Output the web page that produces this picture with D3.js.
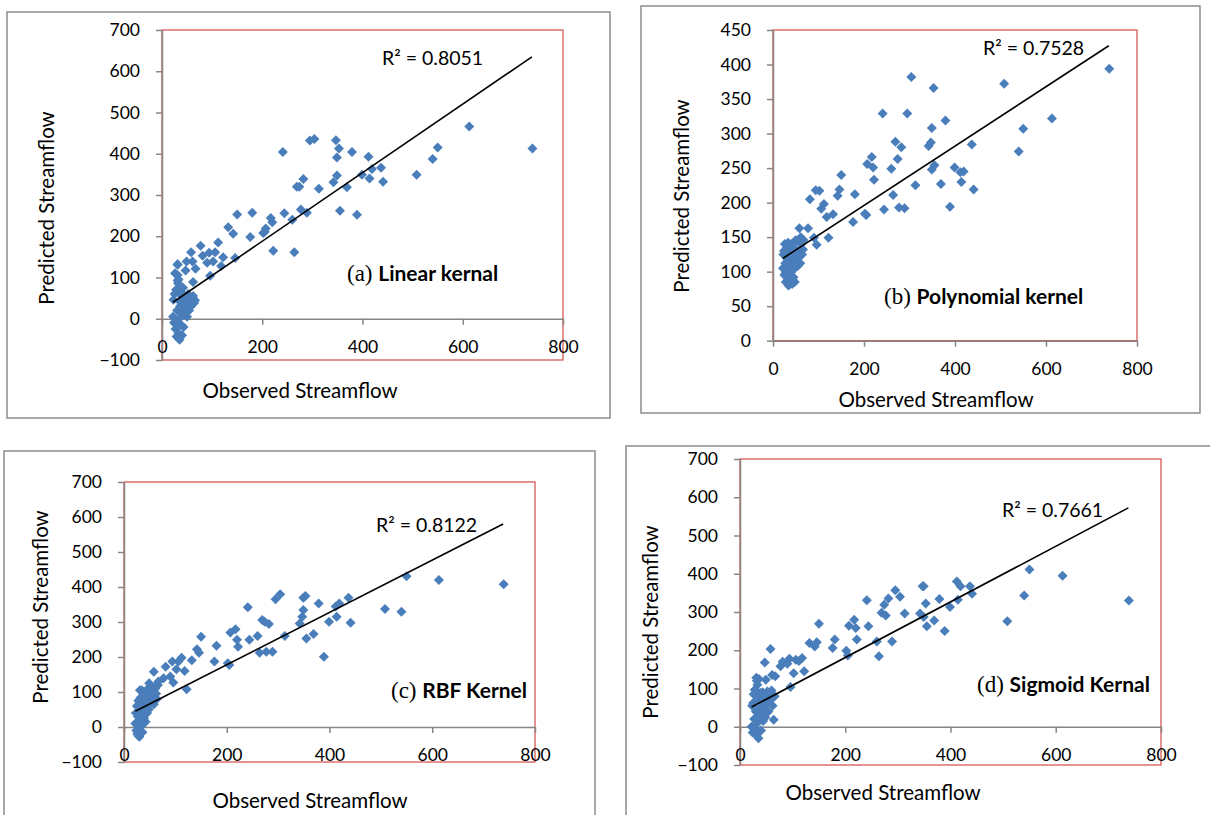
<!DOCTYPE html>
<html>
<head>
<meta charset="utf-8">
<script src="https://cdn.jsdelivr.net/npm/d3@7"></script>
<style>
body { margin: 0; background: #fff; }
svg { display: block; font-family: Lato, "Open Sans", sans-serif; }
</style>
</head>
<body>
<svg id="chart" width="1210" height="815"></svg>
<script>
// observed streamflow, shared by all four models
var observed = [739, 613, 550, 540, 508, 441, 437, 419, 414, 412, 399, 389, 379, 369, 355, 353, 349, 349, 347, 342,
    313, 304, 295, 289, 282, 277, 274, 269, 264, 260, 244, 241, 222, 220, 217, 207, 205, 202, 180, 176,
    150, 146, 142, 132, 122, 118, 112, 106, 102, 96, 94, 90, 81, 77, 67, 62, 61, 58, 49, 47, 31, 31, 31,
    22, 23, 24, 25, 26, 27, 28, 29, 30, 31, 32, 33, 34, 35, 36, 37, 38, 39, 40, 41,
    42, 43, 44, 45, 46, 47, 48, 50, 52, 54, 56, 58, 60, 62, 64, 66, 28, 33, 38, 43];

var predLinear = [413, 466, 415, 387, 349, 332, 366, 363, 340, 393, 349, 252, 404, 319, 262, 413, 391, 347, 433, 331,
    315, 436, 432, 257, 339, 265, 320, 320, 161, 240, 256, 404, 165, 234, 244, 219, 211, 208, 257, 198,
    253, 147, 206, 222, 149, 128, 185, 161, 139, 104, 160, 136, 153, 177, 121, 89, 139, 161, 139, 117, 131, 106, 93,
    5, 46, -10, 60, 110, -25, 70, -43, 20, 132, 86, -35, 0, -51, 30, 40, -15, 55, -40, 10,
    75, -20, 35, 15, 50, 25, 40, 5, 60, 20, 45, 30, 50, 55, 38, 45, -5, 95, 65, 25];

var predPoly = [394, 322, 307, 274, 372, 219, 284, 245, 230, 244, 251, 194, 319, 227, 254, 366, 308, 248, 287, 282,
    225, 382, 329, 192, 280, 193, 263, 288, 211, 249, 190, 329, 233, 251, 266, 256, 182, 184, 212, 172,
    240, 219, 210, 183, 149, 179, 198, 191, 217, 139, 218, 149, 205, 163, 146, 140, 150, 163, 145, 130, 135, 120, 112,
    105, 125, 130, 95, 140, 112, 85, 120, 100, 135, 90, 115, 80, 128, 105, 95, 118, 88, 140, 100,
    82, 110, 125, 92, 135, 105, 85, 115, 145, 108, 120, 130, 112, 140, 125, 132, 98, 142, 108, 88];

var predRbf = [408, 420, 431, 329, 337, 298, 369, 353, 315, 344, 301, 201, 353, 266, 253, 374, 369, 334, 315, 296,
    260, 379, 365, 215, 294, 215, 301, 306, 212, 260, 249, 342, 229, 249, 279, 270, 177, 182, 232, 187,
    258, 212, 222, 191, 108, 160, 198, 187, 165, 127, 187, 144, 172, 139, 130, 95, 110, 158, 125, 110, 105, 80, 75,
    10, 40, -10, 60, -20, 30, 75, 0, -28, 50, 20, 85, 5, 105, -15, 45, 65, 25, 35, 80,
    15, 55, 70, 40, 95, 60, 50, 85, 75, 100, 90, 65, 115, 95, 80, 120, -25, 30, 10, 100];

var predSigmoid = [330, 395, 411, 343, 276, 348, 367, 367, 332, 380, 313, 250, 334, 278, 263, 322, 367, 287, 367, 296,
    296, 340, 357, 223, 335, 291, 319, 298, 184, 223, 263, 331, 228, 258, 280, 264, 186, 199, 228, 206,
    269, 221, 210, 219, 145, 180, 172, 175, 140, 104, 178, 165, 170, 158, 132, 79, 135, 203, 123, 168, 128, 95, 90,
    0, 55, -15, 62, 85, 20, 97, -5, 40, -22, 120, 10, 75, -30, 125, 30, 50, 88, -10, 65,
    35, 90, 15, 70, 45, 80, 25, 60, 92, 40, 85, 70, 95, 55, 18, 80, 5, 110, 70, 30];

var letters = ["(a)", "(b)", "(c)", "(d)"];
var kernelNames = ["Linear kernal", "Polynomial kernel", "RBF Kernel", "Sigmoid Kernal"];
var r2Labels = ["R\u00b2 = 0.8051", "R\u00b2 = 0.7528", "R\u00b2 = 0.8122", "R\u00b2 = 0.7661"];

// linear trendlines
var trendSlope = [0.831, 0.430, 0.747, 0.727];
var trendIntercept = [21.7, 109.9, 28.6, 35.6];
var trendFrom = 22, trendTo = 738;

var xTicks = [0, 200, 400, 600, 800];
var yTicksWide = [-100, 0, 100, 200, 300, 400, 500, 600, 700];
var yTicksPoly = [0, 50, 100, 150, 200, 250, 300, 350, 400, 450];

var series = [predLinear, predPoly, predRbf, predSigmoid];
var yTickSets = [yTicksWide, yTicksPoly, yTicksWide, yTicksWide];

// page layout of each panel
var layouts = [
    { box: [7, 12, 610, 418], left: 162, right: 563, top: 30, bottom: 360,
      yt: [46, 208], xt: [300, 390], r2: [382, 65], lab: [347, 281] },
    { box: [641, 6, 1200, 413], left: 773, right: 1137, top: 30, bottom: 340.7,
      yt: [681, 196], xt: [936, 399], r2: [983, 55], lab: [884, 304] },
    { box: [4, 451, 595, 830], left: 124, right: 535, top: 482, bottom: 762,
      yt: [40, 607], xt: [310, 800], r2: [376, 532], lab: [391, 698] },
    { box: [626, 446, 1225, 830], left: 740, right: 1161, top: 459, bottom: 765,
      yt: [650, 622], xt: [883, 792], r2: [1002, 517], lab: [977, 692] }
];

var svg = d3.select("#chart");
var axisGray = "#868686";
var marker = d3.symbol(d3.symbolSquare, 50);

series.forEach(function(pred, i) {
    var L = layouts[i];
    var ticks = yTickSets[i];
    var g = svg.append("g");

    g.append("rect")
        .attr("x", L.box[0]).attr("y", L.box[1])
        .attr("width", L.box[2] - L.box[0]).attr("height", L.box[3] - L.box[1])
        .attr("fill", "none").attr("stroke", "#8c8c8c").attr("stroke-width", 1.5);

    var x = d3.scaleLinear().domain([0, 800]).range([L.left, L.right]);
    var y = d3.scaleLinear().domain([ticks[0], ticks[ticks.length - 1]]).range([L.bottom, L.top]);

    g.append("rect")
        .attr("x", L.left).attr("y", L.top)
        .attr("width", L.right - L.left).attr("height", L.bottom - L.top)
        .attr("fill", "none").attr("stroke", "#d24a4a").attr("stroke-width", 1.2);

    var yAxis = g.append("g")
        .attr("transform", "translate(" + L.left + ",0)")
        .call(d3.axisLeft(y).tickValues(ticks).tickSize(6).tickSizeOuter(0).tickPadding(16));
    var xAxis = g.append("g")
        .attr("transform", "translate(0," + y(0) + ")")
        .call(d3.axisBottom(x).tickValues(xTicks).tickSize(6).tickSizeOuter(0).tickPadding(16));

    [yAxis, xAxis].forEach(function(ax) {
        ax.attr("font-family", null).attr("font-size", 17.5);
        ax.selectAll("path, line").attr("stroke", axisGray).attr("stroke-width", 1.5);
        ax.selectAll("text").attr("fill", "#000");
    });

    g.selectAll("path.pt")
        .data(observed.map(function(o, k) { return [o, pred[k]]; }))
        .enter().append("path")
        .attr("class", "pt")
        .attr("d", marker)
        .attr("fill", "#4a7ebb")
        .attr("transform", function(d) {
            return "translate(" + x(d[0]) + "," + y(d[1]) + ") rotate(45)";
        });

    g.append("line")
        .attr("x1", x(trendFrom)).attr("y1", y(trendSlope[i] * trendFrom + trendIntercept[i]))
        .attr("x2", x(trendTo)).attr("y2", y(trendSlope[i] * trendTo + trendIntercept[i]))
        .attr("stroke", "#000").attr("stroke-width", 1.6);

    g.append("text")
        .attr("x", L.r2[0]).attr("y", L.r2[1])
        .attr("font-size", 19.5)
        .text(r2Labels[i]);

    var lab = g.append("text").attr("x", L.lab[0]).attr("y", L.lab[1]);
    lab.append("tspan")
        .attr("font-family", "'Liberation Serif', 'DejaVu Serif', serif")
        .attr("font-size", 23)
        .text(letters[i] + " ");
    lab.append("tspan")
        .attr("font-weight", "bold")
        .attr("font-size", 21)
        .text(kernelNames[i]);

    g.append("text")
        .attr("transform", "translate(" + L.yt[0] + "," + L.yt[1] + ") rotate(-90)")
        .attr("text-anchor", "middle")
        .attr("dominant-baseline", "central")
        .attr("font-size", 20.5)
        .text("Predicted Streamflow");

    g.append("text")
        .attr("x", L.xt[0]).attr("y", L.xt[1])
        .attr("text-anchor", "middle")
        .attr("dominant-baseline", "central")
        .attr("font-size", 20.5)
        .text("Observed Streamflow");
});
</script>
</body>
</html>
